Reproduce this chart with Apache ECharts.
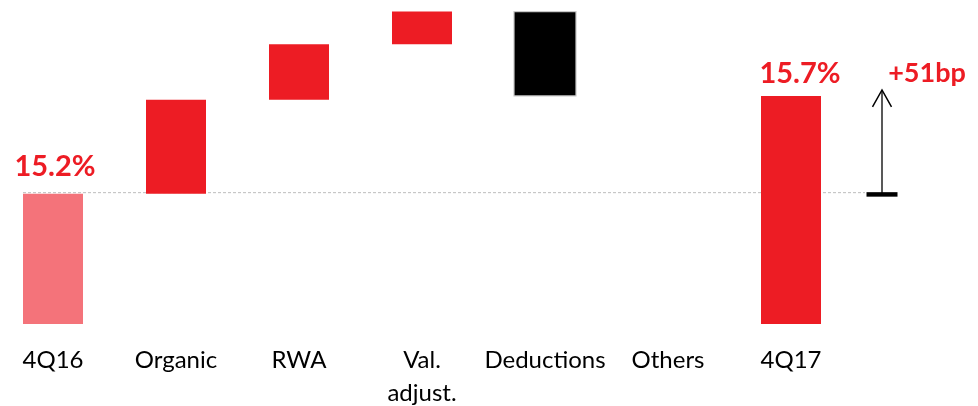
<!DOCTYPE html>
<html>
<head>
<meta charset="utf-8">
<script src="https://cdn.jsdelivr.net/npm/echarts@6/dist/echarts.min.js"></script>
<style>
  html, body { margin: 0; padding: 0; background: #fff; }
  #chart { width: 978px; height: 406px; }
</style>
</head>
<body>
<div id="chart"></div>
<script>
// CET1 ratio bridge, 4Q16 -> 4Q17 (in %)
const categories = ['4Q16', 'Organic', 'RWA', 'Val.\nadjust.', 'Deductions', 'Others', '4Q17'];
const startValue = 15.20;
const deltas = [0.49, 0.29, 0.17, -0.44, 0.00];   // Organic .. Others
const endValue = 15.71;
const totalLabels = ['15.2%', '15.7%'];
const changeLabel = '+51bp';

const RED = '#ED1C24';
const LIGHT_RED = '#F4737A';

// Build [index, low, high, kind] rows for the bridge
const rows = [];
rows.push([0, null, startValue, 'start']);
let running = startValue;
deltas.forEach((d, i) => {
  const lo = Math.min(running, running + d);
  const hi = Math.max(running, running + d);
  rows.push([i + 1, lo, hi, d >= 0 ? 'up' : 'down']);
  running += d;
});
rows.push([categories.length - 1, null, endValue, 'end']);

const Y_MIN = 14.52, Y_MAX = 16.2;
const BAR_W = 60;

const chart = echarts.init(document.getElementById('chart'), null, { renderer: 'canvas' });

function renderBar(params, api) {
  const idx = api.value(0);
  const kind = rows[params.dataIndex][3];
  const lowVal = (kind === 'start' || kind === 'end') ? Y_MIN : api.value(1);
  const highVal = api.value(2);
  const top = api.coord([idx, highVal]);
  const bottom = api.coord([idx, lowVal]);
  const h = bottom[1] - top[1];
  const children = [];
  if (h > 0.5) {
    let fill = RED, stroke = null, w = BAR_W;
    if (kind === 'start') fill = LIGHT_RED;
    if (kind === 'down') { fill = '#000'; stroke = '#C8C8C8'; w = BAR_W + 2; }
    children.push({
      type: 'rect',
      shape: { x: top[0] - w / 2, y: top[1], width: w, height: h },
      style: { fill: fill, stroke: stroke, lineWidth: stroke ? 1.2 : 0 }
    });
  }
  if (kind === 'start' || kind === 'end') {
    const text = kind === 'start' ? totalLabels[0] : totalLabels[1];
    const dx = kind === 'start' ? 2 : 9;
    const dy = kind === 'start' ? 27 : 22;
    children.push({
      type: 'text',
      style: {
        x: top[0] + dx, y: top[1] - dy,
        text: text,
        fill: RED,
        font: 'bold 29px Lato',
        align: 'center',
        verticalAlign: 'middle'
      }
    });
  }
  return { type: 'group', children: children };
}

chart.setOption({
  backgroundColor: '#fff',
  animation: false,
  grid: { left: 53, right: 187, top: 2, bottom: 82, containLabel: false, outerBoundsMode: 'none' },
  xAxis: {
    type: 'category',
    data: categories,
    boundaryGap: false,
    axisLine: { show: false },
    axisTick: { show: false },
    axisLabel: {
      color: '#000',
      fontFamily: 'Lato',
      fontSize: 24,
      lineHeight: 33,
      margin: 20,
      interval: 0
    }
  },
  yAxis: {
    type: 'value',
    min: Y_MIN,
    max: Y_MAX,
    show: false,
    splitLine: { show: false }
  },
  series: [{
    type: 'custom',
    renderItem: renderBar,
    data: rows.map(r => [r[0], r[1] === null ? Y_MIN : r[1], r[2]]),
    encode: { x: 0, y: [1, 2] },
    clip: false
  }]
});

// Reference line at the starting level and the +51bp change marker
const p0 = chart.convertToPixel({ gridIndex: 0 }, [0, startValue]);
const p1 = chart.convertToPixel({ gridIndex: 0 }, [categories.length - 1, endValue]);
const arrowX = p1[0] + 91;
const baseY = p0[1];
const tipY = p1[1] - 6;

chart.setOption({
  graphic: [
    {
      type: 'line', z: -1,
      shape: { x1: p0[0] - BAR_W / 2, y1: baseY - 1, x2: arrowX - 17, y2: baseY - 1 },
      style: { stroke: '#BDBDBD', lineWidth: 1, lineDash: [3, 2] }
    },
    {
      type: 'line',
      shape: { x1: arrowX, y1: baseY, x2: arrowX, y2: tipY + 1 },
      style: { stroke: '#595959', lineWidth: 2 }
    },
    {
      type: 'polyline',
      shape: { points: [[arrowX - 9.5, tipY + 17], [arrowX, tipY], [arrowX + 9.5, tipY + 17]] },
      style: { stroke: '#000', lineWidth: 1.5, fill: null }
    },
    {
      type: 'rect',
      shape: { x: arrowX - 15.5, y: baseY - 1.5, width: 31, height: 4.5 },
      style: { fill: '#000' }
    },
    {
      type: 'text',
      style: {
        x: arrowX + 45, y: p1[1] - 23,
        text: changeLabel,
        fill: RED,
        font: 'bold 27px Lato',
        align: 'center',
        verticalAlign: 'middle'
      }
    }
  ]
});
</script>
</body>
</html>
